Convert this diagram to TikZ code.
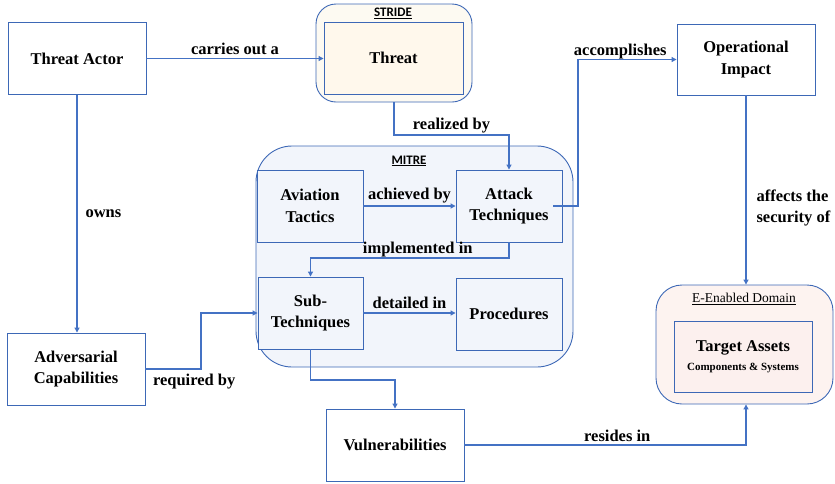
\documentclass[tikz,border=0pt]{standalone}
\usepackage{fontspec}
\setmainfont{Liberation Serif}
\newfontfamily\titlefont{Carlito}
\usetikzlibrary{arrows.meta}
\definecolor{lineblue}{HTML}{4472C4}
\definecolor{boxblue}{HTML}{3D68B6}
\definecolor{mitrefill}{HTML}{F2F5FB}
\definecolor{stridefill}{HTML}{FDFAF2}
\definecolor{threatfill}{HTML}{FFF8EC}
\definecolor{domfill}{HTML}{FDF3F0}
\definecolor{targetfill}{HTML}{FCF0EE}
\begin{document}
\begin{tikzpicture}[x=1pt,y=-1pt,
  box/.style={draw=boxblue, line width=0.9pt, fill=white, minimum width=138pt, minimum height=72pt,
    align=center, inner sep=0pt, font=\bfseries\fontsize{16.5}{21.5}\selectfont},
  sbox/.style={box, fill=mitrefill, minimum width=106pt},
  container/.style={draw=boxblue, line width=0.9pt, inner sep=0pt},
  conn/.style={draw=lineblue, line width=1.1pt, -{Triangle[length=5pt,width=5pt]}},
  lbl/.style={font=\bfseries\fontsize{16.5}{21.5}\selectfont, inner sep=1pt},
  ttl/.style={font=\titlefont\bfseries\fontsize{13}{15}\selectfont, inner sep=0pt}]
\useasboundingbox (0,0) rectangle (835,483);
% containers
\node[container, fill=stridefill, rounded corners=20pt, minimum width=156pt, minimum height=98pt] (stride) at (394,53) {};
\node[ttl] (stridet) at (393,13) {\underline{STRIDE}};
\node[container, fill=mitrefill, rounded corners=36pt, minimum width=317pt, minimum height=221pt] (mitre) at (414.5,256.5) {};
\node[ttl] (mitret) at (409,161) {\underline{MITRE}};
\node[container, fill=domfill, rounded corners=26pt, minimum width=177pt, minimum height=119pt] (edomain) at (744.5,344.5) {};
\node[font=\fontsize{13.5}{16}\selectfont, inner sep=0pt] (edomt) at (744,299) {\underline{E-Enabled Domain}};
% boxes
\node[box] (actor) at (77,58.5) {Threat Actor};
\node[box, fill=threatfill, minimum width=139pt] (threat) at (393.5,58) {Threat};
\node[box, minimum height=71pt] (opimp) at (746,59.5) {Operational\\Impact};
\node[sbox] (avi) at (310,206) {Aviation\\Tactics};
\node[sbox] (attack) at (509,206) {Attack\\Techniques};
\node[sbox, minimum width=105pt] (sub) at (310.5,313) {Sub-\\Techniques};
\node[sbox] (proc) at (509,314) {Procedures};
\node[box] (adv) at (76,369) {Adversarial\\Capabilities};
\node[box] (vuln) at (395,445) {Vulnerabilities};
\node[box, fill=targetfill, minimum height=71pt] (target) at (743,356.5) {Target Assets\\[-3pt]{\fontsize{11}{13}\selectfont Components \& Systems}};
% coordinates
\coordinate (r1) at (0,135);
\coordinate (i1) at (0,258);
\coordinate (v1) at (0,380);
\coordinate (a1) at (578,0);
\coordinate (q1) at (201,0);
% connectors
\draw[conn] (actor.east) -- node[lbl, above=2pt] (l1) {carries out a} (actor.east -| threat.west);
\draw[conn] (actor.south) -- node[lbl, right=7pt] (l2) {owns} (actor.south |- adv.north);
\draw[conn] (stride.south) -- (stride.south |- r1) -- node[lbl, above] (l3) {realized by} (attack.north |- r1) -- (attack.north);
\draw[conn] (avi.east) -- node[lbl, above=1pt] (l4) {achieved by} (attack.west);
\draw[conn] (attack.south) -- (attack.south |- i1) -- node[lbl, above=-1pt, xshift=8pt] (l5) {implemented in} (sub.north |- i1) -- (sub.north);
\draw[conn] (sub.east) -- node[lbl, above=3pt] (l6) {detailed in} (sub.east -| proc.west);
\draw[conn] ([xshift=-9pt]attack.east) -- (attack.east -| a1) -- (a1 |- opimp.west) -- node[lbl, above=-1pt, xshift=-7pt] (l7) {accomplishes} (opimp.west);
\draw[conn] (opimp.south) -- node[lbl, right=9pt, align=left, yshift=-18pt] (l8) {affects the\\security of} (opimp.south |- edomain.north);
\draw[conn] (adv.east) -- node[lbl, pos=0, anchor=north west, xshift=6pt, yshift=-3pt] (l9) {required by} (adv.east -| q1) -- (q1 |- sub.west) -- (sub.west);
\draw[conn] (sub.south) -- (sub.south |- v1) -- (vuln.north |- v1) -- (vuln.north);
\draw[conn] (vuln.east) -- node[lbl, above=2pt, xshift=12pt] (l10) {resides in} (vuln.east -| opimp.south) -- (opimp.south |- edomain.south);
\end{tikzpicture}
\end{document}
